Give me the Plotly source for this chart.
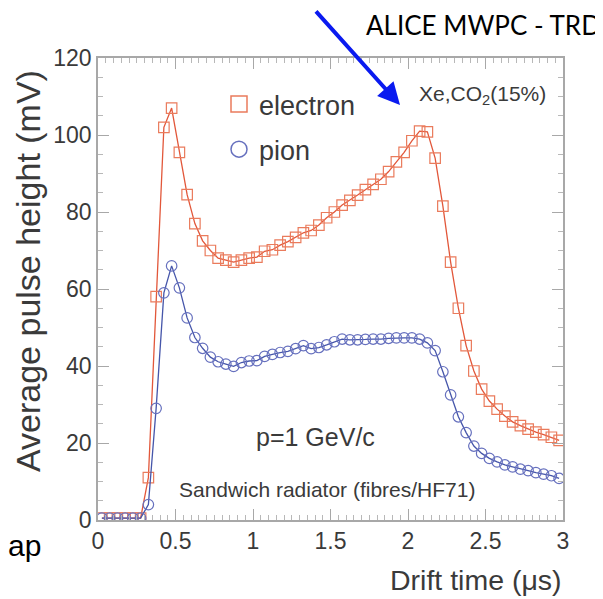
import plotly.graph_objects as go

# ---- data ----
drift_time_us = [0.025, 0.075, 0.125, 0.175, 0.225, 0.275,
                 0.325, 0.375, 0.425, 0.475, 0.525, 0.575, 0.625, 0.675, 0.725, 0.775,
                 0.825, 0.875, 0.925, 0.975, 1.025, 1.075, 1.125, 1.175, 1.225, 1.275,
                 1.325, 1.375, 1.425, 1.475, 1.525, 1.575, 1.625, 1.675, 1.725, 1.775,
                 1.825, 1.875, 1.925, 1.975, 2.025, 2.075, 2.125, 2.175, 2.225, 2.275,
                 2.325, 2.375, 2.425, 2.475, 2.525, 2.575, 2.625, 2.675, 2.725, 2.775,
                 2.825, 2.875, 2.925, 2.975]

electron_mV = [0.5, 0.5, 0.5, 0.5, 0.5, 0.5,
               11, 58, 102, 107, 95.5, 84.5, 77, 72.5, 70, 68,
               67.5, 67, 67.5, 68, 68.3, 69.8, 70.2, 71.4, 72.3, 73.4,
               74.6, 75.2, 76.6, 78.5, 80, 81.8, 83, 84.4, 85.8, 87.2,
               88.5, 90.5, 93, 95.5, 98.5, 101, 100.8, 94, 81.5, 67,
               55, 45.3, 38.7, 34, 30.9, 28.8, 27, 25.5, 24.5, 23.6,
               22.8, 22.2, 21.5, 20.7]

pion_mV = [0.5, 0.5, 0.5, 0.5, 0.5, 0.5,
           4, 29, 59, 66, 60.3, 52.5, 47.4, 44.6, 42.3, 41.1,
           40.5, 39.9, 40.9, 41.3, 41.4, 42.5, 43, 43.5, 43.8, 44.5,
           45.3, 44.5, 44.8, 45.5, 46.3, 47, 46.8, 46.8, 46.9, 47,
           47, 47.2, 47.3, 47.3, 47.3, 47, 46, 44, 38.5, 32.5,
           26.8, 22.7, 19.2, 17.3, 16, 15.1, 14.3, 13.8, 13.2, 12.8,
           12.3, 11.9, 11.5, 10.8]

x_ticks = [0, 0.5, 1, 1.5, 2, 2.5, 3]
x_tick_labels = ["0", "0.5", "1", "1.5", "2", "2.5", "3"]
y_ticks = [0, 20, 40, 60, 80, 100, 120]
y_tick_labels = ["0", "20", "40", "60", "80", "100", "120"]

# ---- styling ----
# the page puts the figure 8px in from the top-left corner; margins compensate
W, H = 603, 599
L, R, T, B = 90, 48, 50, 87
PW, PH = W - L - R, H - T - B
X0, Y0 = 98, 520   # screen pixel of the plot's left / bottom edge


def px(x):
    return (x - X0) / PW


def py(y):
    return (Y0 - y) / PH


E_LINE = "#E2573A"
E_MARK = "#EA7B5C"
P_LINE = "#4656AA"
P_MARK = "#6670BE"
FONT = "Arial"
TXT = "#3a3a3a"

fig = go.Figure()
fig.add_trace(go.Scatter(
    x=drift_time_us, y=electron_mV, mode="lines+markers", showlegend=False,
    line=dict(color=E_LINE, width=1.3),
    marker=dict(symbol="square-open", size=10.5, color=E_MARK, line=dict(width=1.2)),
))
fig.add_trace(go.Scatter(
    x=drift_time_us, y=pion_mV, mode="lines+markers", showlegend=False,
    line=dict(color=P_LINE, width=1.3),
    marker=dict(symbol="circle-open", size=10.5, color=P_MARK, line=dict(width=1.2)),
))
# legend entries (markers only)
fig.add_trace(go.Scatter(x=[None], y=[None], mode="markers", name="electron",
                         legendgroup="e",
                         marker=dict(symbol="square-open", size=16, color=E_MARK,
                                     line=dict(width=1.5))))
fig.add_trace(go.Scatter(x=[None], y=[None], mode="markers", name="pion",
                         legendgroup="p",
                         marker=dict(symbol="circle-open", size=16, color=P_MARK,
                                     line=dict(width=1.5))))

axis_common = dict(
    showgrid=False, zeroline=False, showline=True, linecolor="#a8a8a8", linewidth=1.5,
    mirror="ticks", ticks="inside", ticklen=11, tickwidth=1, tickcolor="#a8a8a8",
    tickfont=dict(family=FONT, size=23, color=TXT),
)
fig.update_xaxes(range=[0, 3], tickvals=x_ticks, ticktext=x_tick_labels,
                 minor=dict(dtick=0.05, ticklen=5, ticks="inside", tickcolor="#b8b8b8"),
                 **axis_common)
fig.update_yaxes(range=[0, 120], tickvals=y_ticks, ticktext=y_tick_labels,
                 minor=dict(dtick=5, ticklen=5, ticks="inside", tickcolor="#b8b8b8"),
                 **axis_common)

annotations = [
    dict(text="Average pulse height (mV)", x=px(28), y=py(271), textangle=-90,
         xanchor="center", font=dict(family=FONT, size=34, color=TXT)),
    dict(text="Drift time (\u03bcs)", x=px(564), y=py(580), xanchor="right",
         font=dict(family=FONT, size=28.5, color=TXT)),
    dict(text="Xe,CO<sub>2</sub>(15%)", x=px(417), y=py(95), xanchor="left",
         font=dict(family=FONT, size=21, color=TXT)),
    dict(text="p=1 GeV/c", x=px(315), y=py(437), xanchor="center",
         font=dict(family=FONT, size=25, color=TXT)),
    dict(text="Sandwich radiator (fibres/HF71)", x=px(327), y=py(489), xanchor="center",
         font=dict(family=FONT, size=21, color=TXT)),
    dict(text="ALICE MWPC - TRD", x=px(364), y=py(25), xanchor="left",
         font=dict(family="Lato", size=26, color="#000000")),
    dict(text="ap", x=px(6), y=py(545), xanchor="left",
         font=dict(family=FONT, size=30, color="#000000")),
    # blue arrow
    dict(text=" ", x=px(400), y=py(105), ax=-87, ay=-102,
         showarrow=True, arrowhead=2, arrowsize=1.1, arrowwidth=4, arrowcolor="#0A1AF0"),
]
for a in annotations:
    a.setdefault("xref", "paper")
    a.setdefault("yref", "paper")
    a.setdefault("showarrow", False)
    a.setdefault("yanchor", "middle")
fig.update_layout(
    width=W, height=H, margin=dict(l=L, r=R, t=T, b=B),
    paper_bgcolor="white", plot_bgcolor="white",
    annotations=annotations,
    legend=dict(x=px(219), y=py(80), xanchor="left", yanchor="top",
                bgcolor="rgba(0,0,0,0)", font=dict(family=FONT, size=27, color=TXT),
                tracegroupgap=7, itemwidth=30),
)
fig.write_html("out.html")
